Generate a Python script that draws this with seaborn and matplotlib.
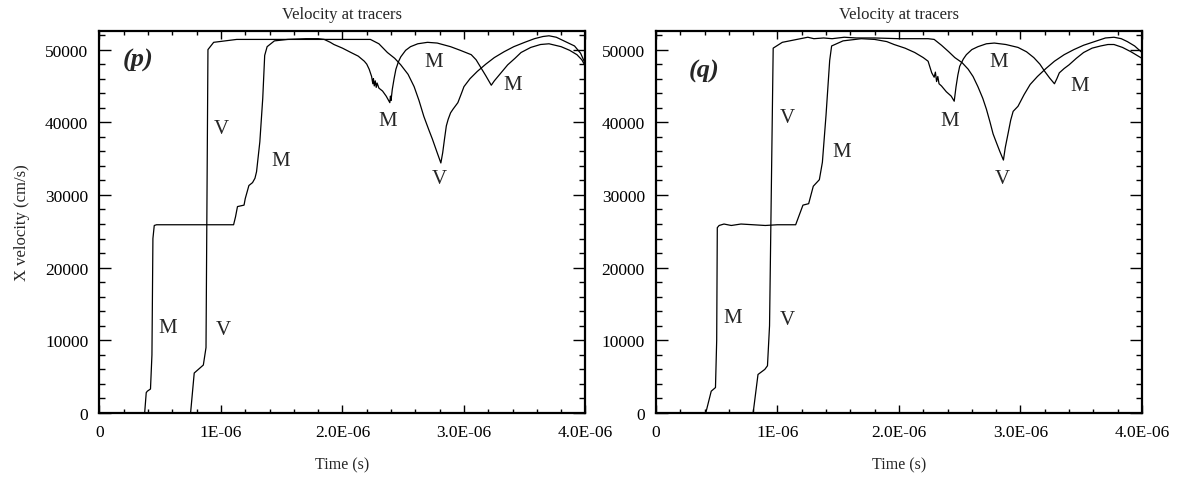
import numpy as np
import pandas as pd
import matplotlib
matplotlib.use("Agg")
import matplotlib.pyplot as plt
from matplotlib.ticker import MultipleLocator, FixedLocator, FixedFormatter
import seaborn as sns

# ---- data: time in microseconds, x velocity in cm/s ----
US = 1e-6

p_M_t = [0, 0.372, 0.385, 0.394, 0.42, 0.432, 0.44, 0.451, 0.47, 0.8, 1.104, 1.12, 1.136, 1.19,
         1.2, 1.23, 1.26, 1.28, 1.293, 1.32, 1.344, 1.36, 1.38, 1.44, 1.55, 1.70, 1.80, 1.85,
         1.90, 1.93, 2.0, 2.07, 2.13, 2.18, 2.20, 2.22, 2.24, 2.25, 2.255, 2.262, 2.27, 2.278,
         2.285, 2.30, 2.33, 2.36, 2.38, 2.39, 2.395, 2.40, 2.41, 2.425, 2.44, 2.46, 2.48, 2.52,
         2.56, 2.62, 2.70, 2.78, 2.89, 2.97, 3.06, 3.10, 3.14, 3.18, 3.225, 3.25, 3.28, 3.32,
         3.36, 3.42, 3.47, 3.55, 3.63, 3.70, 3.80, 3.87, 3.93, 3.97, 4.0]
p_M_v = [0, 0, 2800, 3000, 3300, 8000, 24000, 25800, 25900, 25900, 25900, 27000, 28400, 28600,
         29500, 31300, 31700, 32300, 33200, 37300, 43300, 49200, 50400, 51200, 51400, 51500,
         51500, 51400, 51000, 50700, 50200, 49600, 49100, 48400, 48000, 47300, 46300, 45300,
         46000, 45000, 45700, 44800, 45400, 44700, 44300, 43600, 43000, 42700, 43600, 43000,
         44500, 46000, 47300, 48300, 49000, 49900, 50400, 50800, 51000, 50900, 50400, 49900,
         49300, 48600, 47500, 46400, 45100, 45700, 46300, 47100, 47900, 48800, 49600, 50300,
         50700, 50800, 50400, 49900, 49300, 48600, 47700]

p_V_t = [0, 0.75, 0.78, 0.855, 0.877, 0.893, 0.94, 1.13, 1.6, 2.23, 2.30, 2.37, 2.43, 2.48,
         2.54, 2.59, 2.63, 2.67, 2.71, 2.74, 2.78, 2.81, 2.825, 2.84, 2.855, 2.87, 2.89, 2.91,
         2.95, 2.98, 3.0, 3.05, 3.11, 3.18, 3.25, 3.33, 3.41, 3.50, 3.58, 3.65, 3.70, 3.76,
         3.81, 3.86, 3.91, 3.96, 4.0]
p_V_v = [0, 0, 5500, 6600, 9000, 50000, 51000, 51400, 51400, 51400, 50800, 49600, 48800,
         47900, 46600, 44900, 43000, 40800, 39000, 37700, 35800, 34400, 35800, 37700, 39500,
         40400, 41300, 41800, 42700, 44000, 44900, 46000, 47000, 48000, 48900, 49700, 50400,
         51000, 51500, 51800, 51900, 51700, 51300, 50900, 50500, 49500, 48000]

q_M_t = [0, 0.41, 0.455, 0.49, 0.50, 0.505, 0.52, 0.56, 0.62, 0.70, 0.80, 0.90, 1.0, 1.15,
         1.21, 1.257, 1.295, 1.345, 1.37, 1.40, 1.43, 1.446, 1.54, 1.69, 1.80, 1.90, 1.96,
         2.05, 2.13, 2.20, 2.24, 2.27, 2.29, 2.30, 2.31, 2.32, 2.33, 2.35, 2.39, 2.43, 2.455,
         2.47, 2.485, 2.50, 2.53, 2.555, 2.60, 2.65, 2.72, 2.785, 2.88, 2.98, 3.05, 3.11, 3.16,
         3.20, 3.24, 3.28, 3.30, 3.32, 3.36, 3.40, 3.46, 3.52, 3.59, 3.66, 3.72, 3.77, 3.84,
         3.91, 3.96, 4.0]
q_M_v = [0, 0, 3000, 3500, 10000, 25500, 25800, 26000, 25800, 26000, 25900, 25800, 25900,
         25900, 28600, 28800, 31200, 32100, 34500, 41000, 48500, 50500, 51200, 51500, 51400,
         51100, 50700, 50200, 49600, 48900, 48400, 46800, 46200, 46900, 45600, 46300, 45300,
         45000, 44200, 43600, 42900, 44900, 46500, 47700, 48700, 49300, 50000, 50400, 50800,
         50900, 50700, 50300, 49700, 48900, 48000, 47000, 46100, 45300, 46000, 46800, 47400,
         47900, 48800, 49600, 50200, 50500, 50700, 50700, 50300, 49700, 49200, 48800]

q_V_t = [0, 0.80, 0.84, 0.896, 0.918, 0.935, 0.965, 1.04, 1.19, 1.25, 1.30, 1.38, 1.45, 1.55,
         1.65, 1.8, 2.0, 2.24, 2.29, 2.35, 2.41, 2.46, 2.52, 2.57, 2.61, 2.65, 2.69, 2.72,
         2.75, 2.775, 2.80, 2.83, 2.86, 2.875, 2.90, 2.92, 2.94, 2.98, 3.03, 3.08, 3.14, 3.21,
         3.28, 3.36, 3.44, 3.52, 3.61, 3.70, 3.77, 3.83, 3.88, 3.94, 4.0]
q_V_v = [0, 0, 5300, 6000, 6500, 12000, 50200, 51000, 51500, 51700, 51500, 51600, 51500,
         51700, 51600, 51600, 51500, 51500, 51400, 50600, 49700, 48900, 48200, 47300, 46300,
         44900, 43300, 41800, 40000, 38400, 37300, 36000, 34800, 36500, 38600, 40300, 41500,
         42200, 43800, 45200, 46300, 47400, 48400, 49300, 50000, 50600, 51100, 51600, 51700,
         51500, 51100, 50500, 49600]

# curve annotations: (text, time in us, velocity)
p_labels = [("M", 0.56, 11700), ("V", 1.02, 11500), ("V", 1.0, 39200), ("M", 1.49, 34800),
            ("M", 2.375, 40300), ("M", 2.75, 48300), ("V", 2.80, 32300), ("M", 3.40, 45200)]
q_labels = [("M", 0.63, 13200), ("V", 1.085, 12800), ("V", 1.085, 40700), ("M", 1.53, 36000),
            ("M", 2.42, 40200), ("M", 2.82, 48400), ("V", 2.85, 32300), ("M", 3.49, 45100)]
panel_tags = [("(p)", 0.32, 48700), ("(q)", 0.40, 47100)]

x_ticks = [0, 1, 2, 3, 4]
x_tick_labels = ["0", "1E-06", "2.0E-06", "3.0E-06", "4.0E-06"]
y_ticks = [0, 10000, 20000, 30000, 40000, 50000]

frames = []
for panel, tracer, t, v in [("p", "M", p_M_t, p_M_v), ("p", "V", p_V_t, p_V_v),
                            ("q", "M", q_M_t, q_M_v), ("q", "V", q_V_t, q_V_v)]:
    frames.append(pd.DataFrame({"panel": panel, "tracer": tracer,
                                "time": np.asarray(t) * US, "velocity": v}))
df = pd.concat(frames, ignore_index=True)

sns.set_theme(style="ticks")
plt.rcParams["font.family"] = ["Liberation Serif", "DejaVu Serif"]

fig = plt.figure(figsize=(11.77, 4.81), dpi=100)
ax_p = fig.add_axes([0.0845, 0.1393, 0.4129, 0.7948])
ax_q = fig.add_axes([0.5573, 0.1393, 0.4129, 0.7948])

for ax, panel, labels, tag in [(ax_p, "p", p_labels, panel_tags[0]),
                               (ax_q, "q", q_labels, panel_tags[1])]:
    sub = df[df["panel"] == panel]
    sns.lineplot(data=sub, x="time", y="velocity", hue="tracer",
                 palette={"M": "black", "V": "black"}, estimator=None, sort=False,
                 legend=False, linewidth=0.9, ax=ax)
    ax.set_xlim(0, 4 * US)
    ax.set_ylim(0, 52600)
    ax.xaxis.set_major_locator(FixedLocator([x * US for x in x_ticks]))
    ax.xaxis.set_major_formatter(FixedFormatter(x_tick_labels))
    ax.xaxis.set_minor_locator(MultipleLocator(0.2 * US))
    ax.yaxis.set_major_locator(FixedLocator(y_ticks))
    ax.yaxis.set_minor_locator(MultipleLocator(2000))
    ax.tick_params(which="both", direction="in", top=True, right=True, colors="black",
                   labelsize=12.5, width=1.0)
    ax.tick_params(axis="x", which="major", length=6, pad=8)
    ax.tick_params(axis="x", which="minor", length=3)
    ax.tick_params(axis="y", which="major", length=8.5, pad=8)
    ax.tick_params(axis="y", which="minor", length=4.3)
    for s in ax.spines.values():
        s.set_linewidth(1.6)
        s.set_color("black")
    ax.set_title("Velocity at tracers", fontsize=12, pad=9)
    ax.set_xlabel("Time (s)", fontsize=11.5, labelpad=12)
    ax.set_ylabel("")
    for txt, t, v in labels:
        ax.text(t * US, v, txt, fontsize=15, ha="center", va="center")
    ax.text(tag[1] * US, tag[2], tag[0], fontsize=19, fontweight="bold",
            fontstyle="italic", ha="center", va="center")

ax_p.set_ylabel("X velocity (cm/s)", fontsize=12, labelpad=11)

fig.savefig("out.png", dpi=100, facecolor="white")
